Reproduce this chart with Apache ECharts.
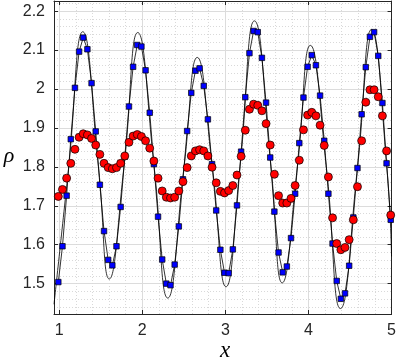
<!DOCTYPE html>
<html>
<head>
<meta charset="UTF-8">
<title>rho(x)</title>
<script src="https://cdn.jsdelivr.net/npm/echarts@6/dist/echarts.min.js"></script>
<style>
  html, body { margin: 0; padding: 0; background: #fff; }
  #main { width: 399px; height: 360px; }
</style>
</head>
<body>
<div id="main"></div>
<script>
// sample positions shared by both marker series
var xs = [0.99, 1.04, 1.09, 1.14, 1.19, 1.24, 1.29, 1.34, 1.39, 1.44,
          1.49, 1.54, 1.59, 1.64, 1.69, 1.74, 1.79, 1.84, 1.89, 1.94,
          1.99, 2.04, 2.09, 2.14, 2.19, 2.24, 2.29, 2.34, 2.39, 2.44,
          2.49, 2.54, 2.59, 2.64, 2.69, 2.74, 2.79, 2.84, 2.89, 2.94,
          2.99, 3.04, 3.09, 3.14, 3.19, 3.24, 3.29, 3.34, 3.39, 3.44,
          3.49, 3.54, 3.59, 3.64, 3.69, 3.74, 3.79, 3.84, 3.89, 3.94,
          3.99, 4.04, 4.09, 4.14, 4.19, 4.24, 4.29, 4.34, 4.39, 4.44,
          4.49, 4.54, 4.59, 4.64, 4.69, 4.74, 4.79, 4.84, 4.89, 4.94,
          4.99];

// blue squares
var rhoBlue = [1.504, 1.596, 1.726, 1.871, 2.003, 2.096, 2.132, 2.102, 2.015, 1.891,
               1.754, 1.635, 1.561, 1.547, 1.596, 1.697, 1.826, 1.955, 2.057, 2.113,
               2.109, 2.048, 1.939, 1.807, 1.672, 1.562, 1.500, 1.496, 1.549, 1.647,
               1.768, 1.892, 1.990, 2.047, 2.053, 2.008, 1.922, 1.807, 1.688, 1.587,
               1.528, 1.527, 1.588, 1.701, 1.839, 1.979, 2.092, 2.149, 2.146, 2.080,
               1.965, 1.824, 1.685, 1.580, 1.529, 1.544, 1.617, 1.731, 1.861, 1.978,
               2.057, 2.087, 2.061, 1.983, 1.867, 1.731, 1.603, 1.507, 1.461, 1.475,
               1.546, 1.670, 1.797, 1.935, 2.056, 2.134, 2.146, 2.085, 1.964, 1.809,
               1.664];

// red circles
var rhoRed = [1.724, 1.742, 1.771, 1.809, 1.845, 1.876, 1.885, 1.882, 1.873, 1.856,
              1.832, 1.809, 1.798, 1.795, 1.798, 1.809, 1.828, 1.863, 1.879, 1.883,
              1.878, 1.867, 1.848, 1.815, 1.771, 1.738, 1.722, 1.720, 1.722, 1.738,
              1.762, 1.798, 1.828, 1.841, 1.844, 1.841, 1.828, 1.799, 1.759, 1.737,
              1.733, 1.739, 1.752, 1.779, 1.827, 1.894, 1.948, 1.961, 1.958, 1.944,
              1.911, 1.856, 1.781, 1.726, 1.707, 1.707, 1.719, 1.752, 1.817, 1.895,
              1.933, 1.940, 1.931, 1.907, 1.855, 1.774, 1.669, 1.603, 1.587, 1.593,
              1.613, 1.664, 1.749, 1.867, 1.966, 1.998, 1.998, 1.980, 1.931, 1.841,
              1.676];

// thin reference curve (read at extremes and mid crossings)
var refX = [0.938, 1.115, 1.284, 1.473, 1.603, 1.78, 1.946, 2.143, 2.307, 2.503,
            2.662, 2.843, 3.008, 3.176, 3.350, 3.549, 3.684, 3.867, 4.023, 4.215,
            4.385, 4.591, 4.759, 4.943, 5.0];
var refY = [1.447, 1.80, 2.147, 1.80, 1.512, 1.80, 2.145, 1.80, 1.463, 1.80,
            2.081, 1.80, 1.492, 1.80, 2.175, 1.80, 1.502, 1.80, 2.112, 1.80,
            1.436, 1.80, 2.153, 1.80, 1.57];

var xMin = 0.938, xMax = 5;
var yMin = 1.422, yMax = 2.226;

function pairs(a, b) {
  var out = [];
  for (var i = 0; i < a.length; i++) out.push([a[i], b[i]]);
  return out;
}

var axisCol = '#262626';
var labelFont = { color: axisCol, fontFamily: 'Liberation Sans', fontSize: 16 };

var chart = echarts.init(document.getElementById('main'), null, { renderer: 'canvas' });
var option = {
  animation: false,
  backgroundColor: '#fff',
  grid: { left: 54, right: 4, top: 1, bottom: 46, containLabel: false },
  xAxis: [{
    type: 'value', min: xMin, max: xMax, splitNumber: 4,
    axisLine: { show: true, onZero: false, lineStyle: { color: axisCol, width: 1 } },
    axisTick: { inside: true, length: 4, lineStyle: { color: axisCol } },
    axisLabel: Object.assign({ margin: 9, showMinLabel: false }, labelFont),
    splitLine: { show: true, lineStyle: { color: '#dcdcdc', width: 1 } },
    minorTick: { show: false, splitNumber: 5 },
    minorSplitLine: { show: true, lineStyle: { color: '#d9d9d9', width: 1, type: [1, 2] } }
  }, {
    type: 'value', min: xMin, max: xMax, splitNumber: 4, position: 'top',
    axisLine: { show: true, onZero: false, lineStyle: { color: axisCol, width: 1 } },
    axisTick: { inside: true, length: 4, lineStyle: { color: axisCol } },
    axisLabel: { show: false },
    splitLine: { show: false }
  }],
  yAxis: [{
    type: 'value', min: yMin, max: yMax, splitNumber: 8,
    axisLine: { show: true, onZero: false, lineStyle: { color: axisCol, width: 1 } },
    axisTick: { inside: true, length: 4, lineStyle: { color: axisCol } },
    axisLabel: Object.assign({ margin: 9, showMinLabel: false, showMaxLabel: false }, labelFont),
    splitLine: { show: true, lineStyle: { color: '#dcdcdc', width: 1 } },
    minorTick: { show: false, splitNumber: 5 },
    minorSplitLine: { show: true, lineStyle: { color: '#d9d9d9', width: 1, type: [1, 2] } }
  }, {
    type: 'value', min: yMin, max: yMax, splitNumber: 8, position: 'right',
    axisLine: { show: true, onZero: false, lineStyle: { color: axisCol, width: 1 } },
    axisTick: { inside: true, length: 4, lineStyle: { color: axisCol } },
    axisLabel: { show: false },
    splitLine: { show: false }
  }],
  graphic: [
    { type: 'text', x: 9, y: 156, style: { text: 'ρ', font: 'italic 22px "Liberation Serif"', fill: '#000', align: 'center', verticalAlign: 'middle' } },
    { type: 'text', x: 225, y: 351, style: { text: 'x', font: 'italic 23px "Liberation Serif"', fill: '#000', align: 'center', verticalAlign: 'middle' } }
  ],
  series: [{
    name: 'reference',
    type: 'line',
    data: pairs(refX, refY),
    smooth: 0.5,
    symbol: 'none',
    lineStyle: { color: '#000', width: 0.8 },
    clip: true,
    silent: true,
    z: 2
  }, {
    name: 'blue',
    type: 'line',
    data: pairs(xs, rhoBlue),
    symbol: 'rect',
    symbolSize: 5.5,
    showAllSymbol: true,
    lineStyle: { color: '#000', width: 0.8 },
    itemStyle: { color: '#0000ff', borderColor: '#000', borderWidth: 0.7 },
    clip: true,
    z: 3
  }, {
    name: 'red',
    type: 'scatter',
    data: pairs(xs, rhoRed),
    symbol: 'circle',
    symbolSize: 8,
    itemStyle: { color: '#ff0000', borderColor: '#000', borderWidth: 0.7, opacity: 1 },
    z: 4
  }]
};
chart.setOption(option);
</script>
</body>
</html>
